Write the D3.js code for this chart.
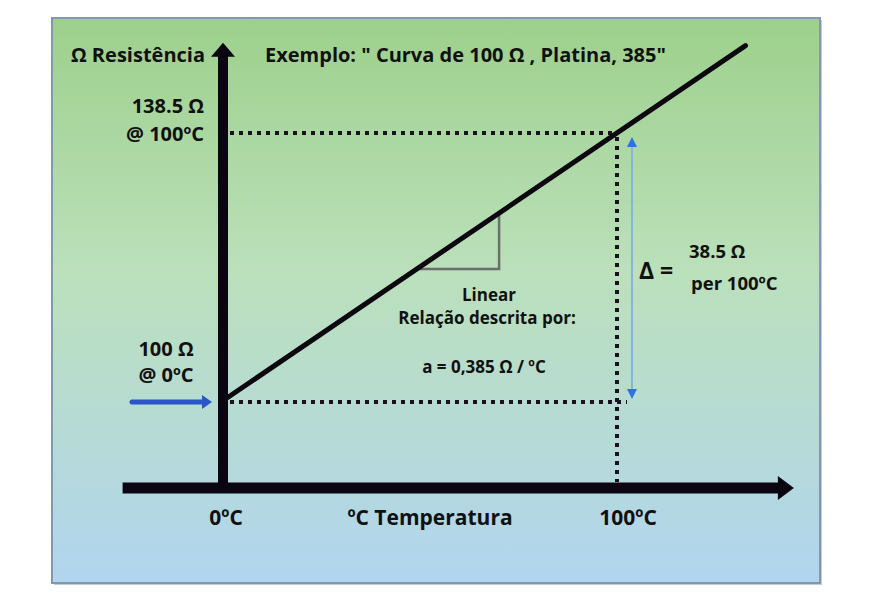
<!DOCTYPE html>
<html>
<head>
<meta charset="utf-8">
<script src="https://cdn.jsdelivr.net/npm/d3@7/dist/d3.min.js"></script>
<style>
  body { margin: 0; background: #fff; }
  svg text { font-family: "Open Sans", "Noto Sans", sans-serif; font-weight: 700; fill: #111; }
</style>
</head>
<body>
<svg id="chart" width="880" height="602"></svg>
<script>
// reference points of the 100 Ω platinum curve (temp ºC, resistance Ω)
var refTemps = [0, 100];
var refOhms = [100, 138.5];
// the drawn line, from 0ºC up past 100ºC
var lineTemps = [0, 132.7];
var lineOhms = [100, 151.1];
// small slope triangle on the line
var triTemps = [49, 70, 70];
var triOhms = [118.9, 118.9, 127.0];
// axis extents
var xExtent = [-25.8, 145];
var yExtent = [87.3, 151.5];

var tickLabels = ["0ºC", "100ºC"];

var svg = d3.select("#chart");

//panel background
var defs = svg.append("defs");
var grad = defs.append("linearGradient")
    .attr("id", "bg")
    .attr("x1", 0).attr("y1", 0).attr("x2", 0).attr("y2", 1);
grad.append("stop").attr("offset", "0%").attr("stop-color", "#9dd08b");
grad.append("stop").attr("offset", "45%").attr("stop-color", "#bbe0bb");
grad.append("stop").attr("offset", "100%").attr("stop-color", "#b1d5ef");

svg.append("rect")
    .attr("x", 54).attr("y", 20)
    .attr("width", 768).attr("height", 565)
    .attr("fill", "#c4ccd8");
svg.append("rect")
    .attr("x", 52).attr("y", 18)
    .attr("width", 768).attr("height", 565)
    .attr("fill", "url(#bg)")
    .attr("stroke", "#8496b0")
    .attr("stroke-width", 2);

//scales
var x = d3.scaleLinear().domain([0, 100]).range([224, 617]);
var y = d3.scaleLinear().domain([100, 138.5]).range([400, 133]);

var g = svg.append("g");

//dotted guides
var dotted = function(x1, y1, x2, y2) {
  g.append("line")
      .attr("x1", x1).attr("y1", y1).attr("x2", x2).attr("y2", y2)
      .attr("stroke", "#1a1020")
      .attr("stroke-width", 4)
      .attr("stroke-dasharray", "4,5");
};
dotted(x(0) + 6, y(refOhms[1]), x(refTemps[1]), y(refOhms[1]));
dotted(x(0) + 6, y(refOhms[0]) + 2, x(refTemps[1]) + 10, y(refOhms[0]) + 2);
dotted(x(refTemps[1]), y(refOhms[1]) + 4, x(refTemps[1]), y(yExtent[0]) - 6);

//slope triangle
g.append("path")
    .attr("d", d3.line()(triTemps.map(function(t, i) { return [x(t), y(triOhms[i])]; })))
    .attr("fill", "none")
    .attr("stroke", "#6b6f6b")
    .attr("stroke-width", 2.5);

//resistance line
g.append("path")
    .attr("d", d3.line()(lineTemps.map(function(t, i) { return [x(t), y(lineOhms[i])]; })))
    .attr("fill", "none")
    .attr("stroke", "#0d0810")
    .attr("stroke-width", 5)
    .attr("stroke-linecap", "round");

//axes
var ax0 = x(0) - 1, ay0 = y(yExtent[0]);
var yTop = y(yExtent[1]);
var xRight = x(xExtent[1]);
g.append("line")
    .attr("x1", ax0).attr("y1", ay0 + 5).attr("x2", ax0).attr("y2", yTop + 12)
    .attr("stroke", "#0a0510").attr("stroke-width", 10);
g.append("path")
    .attr("d", "M" + (ax0 - 12) + "," + (yTop + 14) + "L" + ax0 + "," + yTop + "L" + (ax0 + 12) + "," + (yTop + 14) + "Z")
    .attr("fill", "#0a0510");
g.append("line")
    .attr("x1", x(xExtent[0])).attr("y1", ay0).attr("x2", xRight - 14).attr("y2", ay0)
    .attr("stroke", "#0a0510").attr("stroke-width", 11);
g.append("path")
    .attr("d", "M" + (xRight - 16) + "," + (ay0 - 12) + "L" + xRight + "," + ay0 + "L" + (xRight - 16) + "," + (ay0 + 12) + "Z")
    .attr("fill", "#0a0510");

//blue arrow pointing at 100 Ω
var by = y(refOhms[0]) + 2;
g.append("line")
    .attr("x1", 132).attr("y1", by).attr("x2", 203).attr("y2", by)
    .attr("stroke", "#2b55c8").attr("stroke-width", 5).attr("stroke-linecap", "round");
g.append("path")
    .attr("d", "M202," + (by - 7) + "L212," + by + "L202," + (by + 7) + "Z")
    .attr("fill", "#2b55c8");

//delta double arrow
var dx = x(refTemps[1]) + 15;
var dTop = y(refOhms[1]) + 4, dBot = y(refOhms[0]) - 1;
g.append("line")
    .attr("x1", dx).attr("y1", dTop + 8).attr("x2", dx).attr("y2", dBot - 8)
    .attr("stroke", "#86b3df").attr("stroke-width", 2);
g.append("path")
    .attr("d", "M" + (dx - 5) + "," + (dTop + 10) + "L" + dx + "," + dTop + "L" + (dx + 5) + "," + (dTop + 10) + "Z")
    .attr("fill", "#2f72e0");
g.append("path")
    .attr("d", "M" + (dx - 5) + "," + (dBot - 10) + "L" + dx + "," + dBot + "L" + (dx + 5) + "," + (dBot - 10) + "Z")
    .attr("fill", "#2f72e0");

//texts
var text = function(tx, ty, str, size, anchor) {
  g.append("text")
      .attr("x", tx).attr("y", ty)
      .attr("text-anchor", anchor || "middle")
      .style("font-size", size + "px")
      .text(str);
};
text(205, 62, "Ω Resistência", 20, "end");
text(265, 62, "Exemplo: \" Curva de 100 Ω , Platina, 385\"", 20, "start");
text(204, 113, "138.5 Ω", 20, "end");
text(204, 141, "@ 100ºC", 20, "end");
text(166, 356, "100 Ω", 20);
text(166, 382, "@ 0ºC", 20);
text(489, 301, "Linear", 17);
text(487, 324, "Relação descrita por:", 17);
text(484, 373, "a = 0,385 Ω / ºC", 17);
text(639, 279, "Δ =", 23, "start");
text(689, 258, "38.5 Ω", 18.5, "start");
text(691, 290, "per 100ºC", 18.5, "start");

//x labels
text(x(0) + 2, 525, tickLabels[0], 21);
text(x(100) + 11, 525, tickLabels[1], 21);
text(430, 525, "ºC Temperatura", 21);
</script>
</body>
</html>
